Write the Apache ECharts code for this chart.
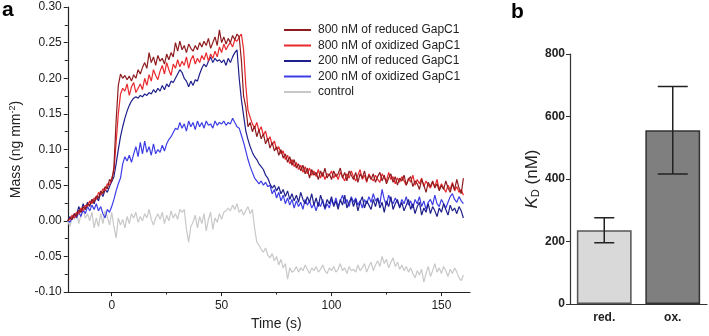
<!DOCTYPE html>
<html>
<head>
<meta charset="utf-8">
<script src="https://cdn.jsdelivr.net/npm/echarts@6/dist/echarts.min.js"></script>
<style>
  html, body { margin: 0; padding: 0; background: #fff; }
  #chart { width: 709px; height: 336px; }
</style>
</head>
<body>
<div id="chart"></div>
<script>
// panel a: time courses, one value per second starting at t = -20 s
const tStart = -20;
const seriesNames = ["800 nM of reduced GapC1", "800 nM of oxidized GapC1", "200 nM of reduced GapC1", "200 nM of oxidized GapC1", "control"];

const red800 = [
  0.000, 0.004, 0.002, 0.010, 0.006, 0.015, 0.012, 0.020, 0.016, 0.024,
  0.022, 0.030, 0.026, 0.035, 0.032, 0.042, 0.038, 0.048, 0.045, 0.058,
  0.055, 0.075, 0.140, 0.190, 0.206, 0.200, 0.204, 0.198, 0.203, 0.196,
  0.205, 0.200, 0.212, 0.206, 0.215, 0.222, 0.214, 0.236, 0.222, 0.230,
  0.218, 0.232, 0.224, 0.228, 0.220, 0.234, 0.226, 0.236, 0.230, 0.250,
  0.238, 0.252, 0.240, 0.246, 0.236, 0.248, 0.242, 0.238, 0.246, 0.240,
  0.250, 0.244, 0.252, 0.246, 0.256, 0.242, 0.250, 0.258, 0.246, 0.268,
  0.250, 0.258, 0.248, 0.256, 0.250, 0.260, 0.254, 0.262, 0.258, 0.225,
  0.175, 0.160, 0.132, 0.138, 0.125, 0.133, 0.118, 0.128, 0.115, 0.122,
  0.108, 0.116, 0.102, 0.110, 0.098, 0.104, 0.092, 0.100, 0.088, 0.094,
  0.082, 0.090, 0.078, 0.086, 0.074, 0.080, 0.070, 0.078, 0.066, 0.074,
  0.060, 0.072, 0.064, 0.068, 0.058, 0.070, 0.062, 0.074, 0.060, 0.066,
  0.058, 0.070, 0.062, 0.066, 0.074, 0.060, 0.068, 0.056, 0.070, 0.064,
  0.058, 0.068, 0.054, 0.066, 0.060, 0.070, 0.056, 0.064, 0.058, 0.066,
  0.054, 0.062, 0.068, 0.056, 0.064, 0.052, 0.060, 0.066, 0.054, 0.062,
  0.050, 0.060, 0.056, 0.064, 0.050, 0.058, 0.062, 0.048, 0.056, 0.052,
  0.044, 0.058, 0.050, 0.040, 0.054, 0.048, 0.056, 0.046, 0.052, 0.042,
  0.050, 0.044, 0.056, 0.046, 0.040, 0.052, 0.044, 0.058, 0.046, 0.038, 0.060
];

const ox800 = [
  0.000, 0.002, 0.008, 0.004, 0.012, 0.010, 0.018, 0.014, 0.022, 0.020,
  0.028, 0.024, 0.032, 0.030, 0.040, 0.036, 0.045, 0.042, 0.052, 0.050,
  0.060, 0.070, 0.110, 0.150, 0.178, 0.186, 0.182, 0.192, 0.176, 0.188,
  0.194, 0.180, 0.186, 0.192, 0.184, 0.200, 0.190, 0.205, 0.196, 0.212,
  0.204, 0.198, 0.210, 0.218, 0.206, 0.222, 0.212, 0.204, 0.220, 0.214,
  0.226, 0.216, 0.224, 0.218, 0.230, 0.214, 0.226, 0.232, 0.220, 0.228,
  0.222, 0.232, 0.226, 0.236, 0.224, 0.234, 0.228, 0.238, 0.230, 0.244,
  0.236, 0.248, 0.240, 0.246, 0.250, 0.244, 0.254, 0.252, 0.258, 0.262,
  0.240, 0.190, 0.155, 0.145, 0.136, 0.130, 0.138, 0.126, 0.132, 0.120,
  0.126, 0.112, 0.118, 0.106, 0.112, 0.100, 0.104, 0.094, 0.098, 0.086,
  0.092, 0.080, 0.086, 0.076, 0.082, 0.072, 0.078, 0.068, 0.076, 0.066,
  0.074, 0.064, 0.070, 0.062, 0.072, 0.060, 0.068, 0.058, 0.066, 0.064,
  0.070, 0.060, 0.066, 0.058, 0.068, 0.062, 0.056, 0.066, 0.060, 0.070,
  0.062, 0.056, 0.064, 0.072, 0.058, 0.064, 0.054, 0.066, 0.060, 0.056,
  0.064, 0.058, 0.054, 0.066, 0.060, 0.056, 0.068, 0.058, 0.062, 0.052,
  0.060, 0.054, 0.062, 0.056, 0.050, 0.060, 0.054, 0.064, 0.050, 0.058,
  0.052, 0.060, 0.048, 0.056, 0.050, 0.046, 0.054, 0.048, 0.058, 0.044,
  0.052, 0.046, 0.040, 0.050, 0.044, 0.054, 0.042, 0.048, 0.040, 0.044, 0.036
];

const red200 = [
  0.000, 0.006, 0.002, 0.010, 0.008, 0.020, 0.012, 0.024, 0.016, 0.026,
  0.020, 0.030, 0.024, 0.034, 0.028, 0.040, 0.034, 0.044, 0.040, 0.048,
  0.055, 0.062, 0.080, 0.100, 0.118, 0.132, 0.144, 0.154, 0.162, 0.168,
  0.172, 0.174, 0.172, 0.176, 0.174, 0.178, 0.176, 0.180, 0.178, 0.184,
  0.180, 0.186, 0.182, 0.190, 0.184, 0.192, 0.188, 0.196, 0.194, 0.200,
  0.206, 0.212, 0.208, 0.200, 0.196, 0.188, 0.196, 0.190, 0.198, 0.196,
  0.206, 0.214, 0.220, 0.216, 0.224, 0.230, 0.222, 0.228, 0.224, 0.226,
  0.222, 0.226, 0.218, 0.228, 0.222, 0.230, 0.236, 0.240, 0.200, 0.170,
  0.148, 0.126, 0.114, 0.104, 0.096, 0.090, 0.086, 0.080, 0.076, 0.072,
  0.064, 0.060, 0.052, 0.046, 0.050, 0.042, 0.048, 0.038, 0.044, 0.034,
  0.042, 0.030, 0.038, 0.028, 0.036, 0.026, 0.040, 0.030, 0.024, 0.034,
  0.026, 0.038, 0.022, 0.032, 0.020, 0.036, 0.026, 0.018, 0.030, 0.024,
  0.034, 0.020, 0.028, 0.016, 0.030, 0.022, 0.036, 0.018, 0.026, 0.032,
  0.020, 0.030, 0.014, 0.026, 0.034, 0.018, 0.028, 0.022, 0.016, 0.030,
  0.020, 0.032, 0.018, 0.026, 0.012, 0.028, 0.020, 0.034, 0.016, 0.024,
  0.030, 0.018, 0.026, 0.014, 0.022, 0.030, 0.016, 0.024, 0.010, 0.020,
  0.026, 0.008, 0.018, 0.012, 0.024, 0.010, 0.020, 0.014, 0.006, 0.018,
  0.012, 0.024, 0.016, 0.008, 0.022, 0.014, 0.018, 0.010, 0.020, 0.014, 0.004
];

const ox200 = [
  0.000, -0.002, 0.004, 0.008, 0.004, 0.012, 0.006, 0.016, 0.010, 0.020,
  0.014, 0.022, 0.016, 0.024, 0.014, 0.020, 0.010, 0.004, 0.016, 0.012,
  0.020, 0.030, 0.042, 0.052, 0.060, 0.080, 0.090, 0.084, 0.092, 0.082,
  0.094, 0.104, 0.090, 0.110, 0.094, 0.112, 0.096, 0.104, 0.092, 0.108,
  0.094, 0.100, 0.096, 0.106, 0.098, 0.108, 0.114, 0.118, 0.124, 0.130,
  0.128, 0.138, 0.130, 0.136, 0.126, 0.140, 0.132, 0.138, 0.128, 0.140,
  0.132, 0.138, 0.130, 0.140, 0.134, 0.136, 0.130, 0.140, 0.134, 0.138,
  0.136, 0.140, 0.134, 0.138, 0.136, 0.144, 0.138, 0.132, 0.130, 0.120,
  0.110, 0.098, 0.086, 0.076, 0.068, 0.060, 0.056, 0.052, 0.056, 0.050,
  0.054, 0.048, 0.050, 0.038, 0.044, 0.032, 0.040, 0.028, 0.036, 0.024,
  0.032, 0.022, 0.030, 0.018, 0.028, 0.020, 0.026, 0.016, 0.030, 0.022,
  0.028, 0.018, 0.024, 0.014, 0.026, 0.020, 0.030, 0.016, 0.024, 0.018,
  0.030, 0.022, 0.032, 0.020, 0.028, 0.036, 0.024, 0.030, 0.020, 0.034,
  0.026, 0.032, 0.022, 0.028, 0.018, 0.030, 0.024, 0.034, 0.026, 0.038,
  0.028, 0.032, 0.024, 0.044, 0.030, 0.022, 0.036, 0.028, 0.024, 0.032,
  0.026, 0.020, 0.030, 0.024, 0.034, 0.022, 0.028, 0.018, 0.030, 0.024,
  0.034, 0.020, 0.028, 0.016, 0.026, 0.030, 0.022, 0.036, 0.024, 0.020,
  0.030, 0.024, 0.018, 0.026, 0.034, 0.038, 0.030, 0.026, 0.034, 0.028, 0.024
];

const control = [
  0.000, -0.008, 0.006, 0.002, 0.012, -0.004, 0.008, 0.016, 0.004, 0.010,
  0.000, 0.012, -0.010, 0.004, -0.008, 0.010, -0.004, 0.014, 0.006, -0.006,
  0.012, -0.008, -0.024, 0.004, -0.006, 0.002, -0.010, 0.006, -0.004, 0.010,
  0.004, 0.012, -0.002, 0.006, 0.000, 0.010, 0.004, 0.016, 0.002, -0.006,
  0.004, 0.010, 0.002, 0.012, -0.004, 0.008, 0.000, 0.014, 0.004, 0.010,
  0.002, 0.016, 0.012, 0.016, -0.012, -0.030, -0.008, -0.002, 0.008, -0.010,
  0.006, -0.004, 0.010, -0.014, 0.002, 0.012, -0.012, 0.004, -0.002, 0.010,
  0.002, 0.012, 0.014, 0.018, 0.014, 0.022, 0.016, 0.024, 0.012, 0.016,
  0.008, 0.014, 0.020, 0.010, 0.016, -0.010, -0.030, -0.034, -0.040, -0.044,
  -0.038, -0.048, -0.052, -0.046, -0.056, -0.050, -0.062, -0.054, -0.066, -0.060,
  -0.082, -0.066, -0.072, -0.070, -0.064, -0.072, -0.066, -0.070, -0.062, -0.068,
  -0.074, -0.066, -0.070, -0.064, -0.072, -0.068, -0.062, -0.070, -0.074, -0.066,
  -0.070, -0.064, -0.072, -0.068, -0.060, -0.070, -0.066, -0.074, -0.064, -0.070,
  -0.068, -0.072, -0.062, -0.070, -0.066, -0.060, -0.072, -0.064, -0.058, -0.070,
  -0.062, -0.056, -0.064, -0.050, -0.060, -0.054, -0.066, -0.058, -0.052, -0.064,
  -0.058, -0.068, -0.062, -0.070, -0.064, -0.072, -0.066, -0.074, -0.080, -0.070,
  -0.076, -0.068, -0.086, -0.074, -0.064, -0.078, -0.070, -0.060, -0.072, -0.066,
  -0.074, -0.064, -0.070, -0.078, -0.068, -0.074, -0.066, -0.072, -0.080, -0.084, -0.076
];

const lineColors = ["#8e1c1f", "#e8282c", "#1f1f8c", "#3d3de6", "#c8c8c8"];
const majorTicksX = [0, 50, 100, 150];
const minorTicksX = [25, 75, 125];

// panel b: KD bars with error bars
const kdCategories = ["red.", "ox."];
const kdValues = [236, 556];
const kdLow = [196, 416];
const kdHigh = [276, 696];

const font = "Arial, 'Liberation Sans', sans-serif";

function toPairs(arr) {
  return arr.map((v, i) => [tStart + i, v]);
}

const chart = echarts.init(document.getElementById("chart"), null, { renderer: "canvas" });

const lineData = [red800, ox800, red200, ox200, control];
const lineSeries = lineData.map((arr, i) => ({
  name: seriesNames[i],
  type: "line",
  xAxisIndex: 0,
  yAxisIndex: 0,
  data: toPairs(arr),
  showSymbol: false,
  animation: false,
  lineStyle: { color: lineColors[i], width: 1.2 },
  itemStyle: { color: lineColors[i] },
  z: i === 4 ? 1 : 2 + (3 - i)
}));

chart.setOption({
  animation: false,
  textStyle: { fontFamily: font },
  graphic: [
    { type: "text", left: 2, top: 0, style: { text: "a", font: "bold 21px Arial, 'Liberation Sans'", fill: "#000" } },
    { type: "text", left: 511, top: 2, style: { text: "b", font: "bold 21px Arial, 'Liberation Sans'", fill: "#000" } }
  ],
  legend: {
    data: seriesNames,
    orient: "vertical",
    left: 279,
    top: 19,
    icon: "rect",
    itemWidth: 27,
    itemHeight: 2,
    itemGap: 3.5,
    textStyle: { fontSize: 12, color: "#222", fontFamily: font, padding: [0, 0, 0, 2] }
  },
  grid: [
    { left: 65, right: 239, top: 7, bottom: 32 },
    { left: 570, right: 2, top: 54, bottom: 32 }
  ],
  xAxis: [
    {
      type: "value", gridIndex: 0, min: -20, max: 163,
      name: "Time (s)", nameLocation: "middle", nameGap: 14,
      nameTextStyle: { fontSize: 14, color: "#222", padding: [0, 0, 0, 15] },
      axisLine: { onZero: false, lineStyle: { color: "#222", width: 1.2 } },
      axisTick: { show: true, customValues: majorTicksX, length: 4, lineStyle: { color: "#222" } },
      axisLabel: { customValues: majorTicksX, fontSize: 12, color: "#222", margin: 8 },
      splitLine: { show: false }
    },
    {
      type: "value", gridIndex: 0, min: -20, max: 163, position: "bottom",
      axisLine: { show: false, onZero: false },
      axisTick: { show: true, customValues: minorTicksX, length: 2.5, lineStyle: { color: "#222" } },
      axisLabel: { show: false },
      splitLine: { show: false }
    },
    {
      type: "category", gridIndex: 1, data: kdCategories,
      axisLine: { lineStyle: { color: "#333", width: 1.2 } },
      axisTick: { show: false },
      axisLabel: { fontSize: 12, fontWeight: "bold", color: "#222", margin: 8 }
    }
  ],
  yAxis: [
    {
      type: "value", gridIndex: 0, min: -0.1, max: 0.3, interval: 0.05,
      name: "{n|Mass (ng mm}{s|-2}{n|)}", nameLocation: "middle", nameGap: 40,
      nameTextStyle: {
        rich: {
          n: { fontSize: 14, color: "#222", fontFamily: font },
          s: { fontSize: 9, color: "#222", fontFamily: font, verticalAlign: "top", padding: [0, 0, 8, 0] }
        }
      },
      axisLine: { show: true, onZero: false, lineStyle: { color: "#222", width: 1.2 } },
      axisTick: { show: true, length: 4, lineStyle: { color: "#222" } },
      minorTick: { show: true, splitNumber: 2, length: 3, lineStyle: { color: "#222" } },
      axisLabel: { fontSize: 12, color: "#222", margin: 6, formatter: v => v.toFixed(2) },
      splitLine: { show: false }
    },
    {
      type: "value", gridIndex: 1, min: 0, max: 800, interval: 200,
      name: "{k|K}{d|D}{n| (nM)}", nameLocation: "middle", nameGap: 22,
      nameTextStyle: {
        rich: {
          k: { fontSize: 17, fontStyle: "italic", color: "#222", fontFamily: font },
          d: { fontSize: 11, color: "#222", fontFamily: font, padding: [6, 0, 0, 0] },
          n: { fontSize: 17, color: "#222", fontFamily: font }
        }
      },
      axisLine: { show: true, onZero: false, lineStyle: { color: "#333", width: 1.2 } },
      axisTick: { show: true, length: 4, lineStyle: { color: "#333" } },
      axisLabel: { fontSize: 12, fontWeight: "bold", color: "#222", margin: 5 },
      splitLine: { show: false }
    }
  ],
  series: [
    ...lineSeries,
    {
      type: "bar",
      xAxisIndex: 2,
      yAxisIndex: 1,
      barWidth: "80%",
      data: kdValues.map((v, i) => ({
        value: v,
        itemStyle: {
          color: i === 0 ? "#d9d9d9" : "#7f7f7f",
          borderColor: i === 0 ? "#555" : "#333",
          borderWidth: 1.5
        }
      }))
    },
    {
      type: "custom",
      xAxisIndex: 2,
      yAxisIndex: 1,
      data: kdCategories.map((c, i) => [i, kdLow[i], kdHigh[i]]),
      renderItem: function (params, api) {
        const x = api.value(0);
        const lo = api.coord([x, api.value(1)]);
        const hi = api.coord([x, api.value(2)]);
        const half = x === 0 ? 10 : 15;
        const st = { stroke: "#222", lineWidth: 1.5 };
        return {
          type: "group",
          children: [
            { type: "line", shape: { x1: lo[0], y1: lo[1], x2: hi[0], y2: hi[1] }, style: st },
            { type: "line", shape: { x1: lo[0] - half, y1: lo[1], x2: lo[0] + half, y2: lo[1] }, style: st },
            { type: "line", shape: { x1: hi[0] - half, y1: hi[1], x2: hi[0] + half, y2: hi[1] }, style: st }
          ]
        };
      },
      z: 5
    }
  ]
});
</script>
</body>
</html>
